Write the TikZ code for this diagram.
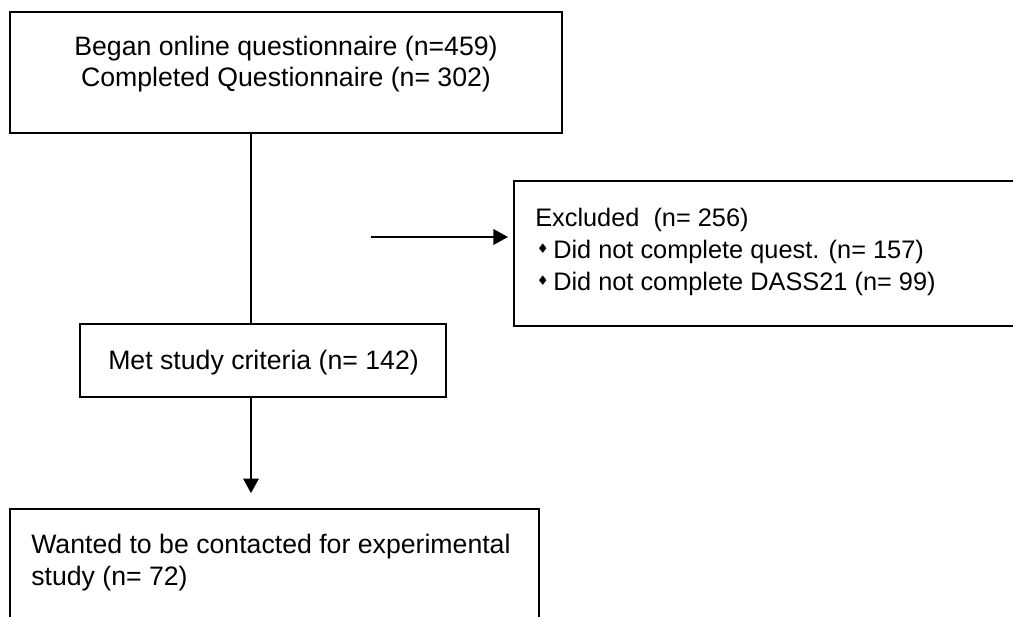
\documentclass[tikz,border=0pt]{standalone}
\usepackage{fontspec}
\setmainfont{Liberation Sans}
\newfontfamily\bulletfont{DejaVu Sans}
\usetikzlibrary{arrows.meta,fit}

\newdimen\pxu
\pxu=0.75pt
\newcommand{\diabullet}{\makebox[18\pxu][l]{\hspace{1.5\pxu}\raisebox{3.6pt}{\bulletfont\fontsize{10}{10}\selectfont ♦}}}

\tikzset{
    box/.style={draw=black, line width=1.7pt, inner sep=0pt},
    txt/.style={inner sep=0pt, font=\fontsize{20}{24}\selectfont},
    smalltxt/.style={inner sep=0pt, font=\fontsize{19}{23.8}\selectfont},
    link/.style={line width=1.8pt},
    flow/.style={line width=1.8pt, -{Triangle[length=11pt, width=11.5pt]}}
}

\begin{document}
\begin{tikzpicture}[x=0.75pt, y=-0.75pt]
    \useasboundingbox (0,0) rectangle (1013,617);

    \node[box, fit={(10,12) (562,133)}] (start) {};
    \node[txt, anchor=base, align=center] (starttext) at (286,87) {Began online questionnaire (n=459)\\Completed Questionnaire (n= 302)};

    \node[box, fit={(514,181) (1040,326)}] (excl) {};
    \node[smalltxt, anchor=base west, align=left] (excltext) at (535,290) {Excluded\ \ (n= 256)\\\diabullet Did not complete quest. (n= 157)\\\diabullet Did not complete DASS21 (n= 99)};

    \node[box, fit={(80,324) (446,397)}] (met) {};
    \node[txt, anchor=base west] (mettext) at (108,369) {Met study criteria (n= 142)};

    \node[box, fit={(10,509) (539,650)}] (contact) {};
    \node[txt, anchor=base west, align=left] (contacttext) at (31,585) {Wanted to be contacted for experimental\\study (n= 72)};

    \coordinate (trunk) at (251,0);
    \coordinate (exclfrom) at (371,237);

    \draw[link] (start.south -| trunk) -- (met.north -| trunk);
    \draw[flow, shorten >=3.6pt] (exclfrom) -- (excl.west |- exclfrom);
    \draw[flow, shorten >=11pt] (met.south -| trunk) -- (contact.north -| trunk);
\end{tikzpicture}
\end{document}
